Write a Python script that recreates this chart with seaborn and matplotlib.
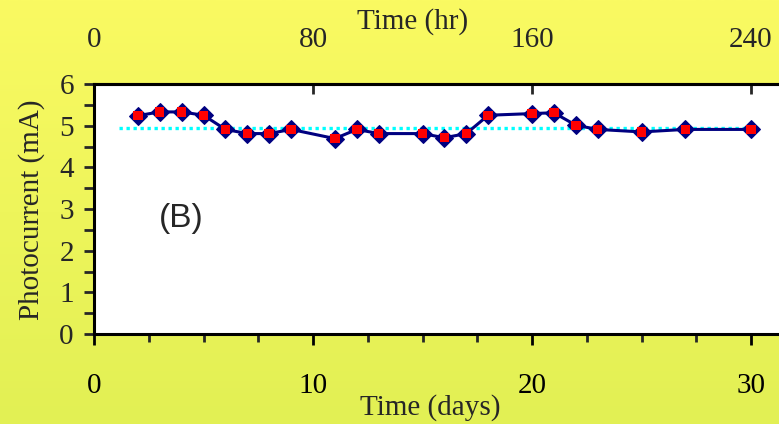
import numpy as np
import pandas as pd
import matplotlib
matplotlib.use("Agg")
import matplotlib.pyplot as plt
from matplotlib.ticker import MultipleLocator
import seaborn as sns

# ---- data ----
days = [2, 3, 4, 5, 6, 7, 8, 9, 11, 12, 13, 15, 16, 17, 18, 20, 21, 22, 23, 25, 27, 30]
photocurrent = [5.24, 5.33, 5.33, 5.25, 4.91, 4.81, 4.81, 4.91, 4.69, 4.91, 4.81,
                4.81, 4.71, 4.81, 5.25, 5.29, 5.31, 5.01, 4.91, 4.85, 4.91, 4.91]
ref_level = 4.95
ref_span = [1.15, 30.3]
day_ticks = [0, 10, 20, 30]
hr_ticks = [0, 80, 160, 240]
y_ticks = [0, 1, 2, 3, 4, 5, 6]

df = pd.DataFrame({"day": days, "current": photocurrent})

sns.set_theme(style="white")
plt.rcParams["font.family"] = ["Liberation Serif", "DejaVu Serif"]

W, H = 779, 424
fig = plt.figure(figsize=(W / 100, H / 100), dpi=100)

# gradient background
bg = fig.add_axes([0, 0, 1, 1], zorder=-10)
top_c = np.array([250, 250, 98]) / 255
bot_c = np.array([226, 240, 84]) / 255
t = np.linspace(0, 1, 256)[:, None]
grad = (top_c[None, :] * (1 - t) + bot_c[None, :] * t)[:, None, :]
bg.imshow(grad, aspect="auto", extent=[0, 1, 0, 1], origin="upper")
bg.axis("off")

left = 94 / W
bottom = (H - 334) / H
top = (H - 84) / H
ax = fig.add_axes([left, bottom, 1 - left, top - bottom])
ax.set_facecolor("white")

ax.hlines(ref_level, ref_span[0], ref_span[1], colors="#00FFFF",
          linestyles=(0, (1, 1.1)), linewidth=2.4, zorder=2)

sns.lineplot(data=df, x="day", y="current", ax=ax, color="#000080", linewidth=2.2,
             marker="D", markersize=9.5, markeredgecolor="#000080",
             markerfacecolor="#000080", zorder=3)
sns.scatterplot(data=df, x="day", y="current", ax=ax, marker="s", s=46,
                color="#FF0000", edgecolor="none", linewidth=0, zorder=4)

ax.set_xlim(0, (W - 94) / 21.9)
ax.set_ylim(0, 6)
ax.set_xlabel("")
ax.set_ylabel("")

for s in ["left", "bottom", "top"]:
    ax.spines[s].set_visible(True)
    ax.spines[s].set_color("black")
    ax.spines[s].set_linewidth(2.2)
ax.spines["right"].set_visible(False)

ax.set_xticks(day_ticks)
ax.xaxis.set_minor_locator(MultipleLocator(2.5))
ax.set_yticks(y_ticks)
ax.yaxis.set_minor_locator(MultipleLocator(0.5))
ax.tick_params(axis="x", which="major", direction="out", length=8, width=2,
               labelsize=21, pad=20, colors="black", bottom=True)
ax.tick_params(axis="x", which="minor", direction="out", length=6, width=2, bottom=True)
ax.tick_params(axis="y", which="both", direction="out", length=7.5, width=2,
               labelsize=21, pad=7, left=True)

secax = ax.secondary_xaxis("top", functions=(lambda d: np.asarray(d) * 8,
                                              lambda h: np.asarray(h) / 8))
secax.set_xticks(hr_ticks)
secax.tick_params(direction="in", length=7, width=2, labelsize=21, pad=22)
secax.spines["top"].set_linewidth(2.2)

fig.text(413 / W, 1 - 22 / H, "Time (hr)", ha="center", va="center", fontsize=21)
fig.text(430 / W, 1 - 408 / H, "Time (days)", ha="center", va="center", fontsize=21)
fig.text(32 / W, 1 - 210 / H, "Photocurrent (mA)", ha="center", va="center",
         rotation=90, fontsize=21)
fig.text(181 / W, 1 - 218 / H, "(B)", ha="center", va="center", fontsize=24,
         family=["Liberation Sans", "DejaVu Sans"])

fig.savefig("out.png", dpi=100)
